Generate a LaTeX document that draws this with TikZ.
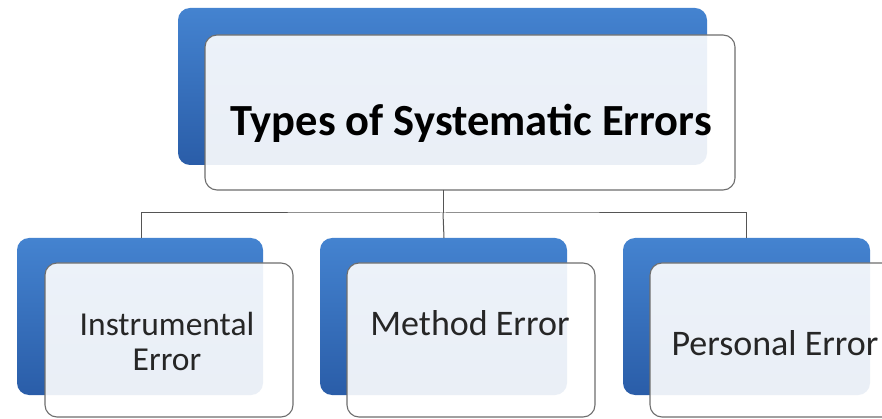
\documentclass[tikz,border=0pt]{standalone}
\usepackage{fontspec}
\setmainfont{Carlito}
\definecolor{bluetop}{HTML}{4483D0}
\definecolor{bluebot}{HTML}{2A5DA8}
\definecolor{edgegrey}{HTML}{6E6E6E}
\definecolor{linegrey}{HTML}{555555}
\definecolor{txt}{HTML}{262626}
\tikzset{
  backbox/.style={rounded corners=12pt, top color=bluetop, bottom color=bluebot, draw=none},
  frontbox/.style={rounded corners=12pt, draw=edgegrey, line width=1.1pt, fill=white, fill opacity=0.9},
  conn/.style={draw=linegrey, line width=1pt},
  childtxt/.style={font=\fontsize{36}{35}\selectfont, text=txt, anchor=base, inner sep=0pt, align=center},
}
\begin{document}
\begin{tikzpicture}[x=1pt,y=-1pt]
\useasboundingbox (0,0) rectangle (882,419);
\clip (0,0) rectangle (882,419);
\fill[white] (0,0) rectangle (882,419);
% top
\path[backbox] (178,8) rectangle (707,165);
\path[frontbox] (205,35) rectangle (735,190);
\node[font=\bfseries\fontsize{44.5}{45}\selectfont, text=black, anchor=base, inner sep=0pt] (toptxt) at (471,136) {Types of Systematic Errors};
% children
\path[backbox] (17,238) rectangle (263,395);
\path[frontbox] (45,263) rectangle (293,417);
\path[backbox] (320,238) rectangle (567,395);
\path[frontbox] (347,263) rectangle (595,417);
\path[backbox] (623,238) rectangle (870,395);
\path[frontbox] (650,263) rectangle (898,417);
\coordinate (c1) at (141,238);
\coordinate (c2) at (444,238);
\coordinate (c3) at (746,238);
\coordinate (topb) at (443,190);
\coordinate (j) at (443,213);
\node[childtxt, font=\fontsize{33.5}{35}\selectfont] (t1) at (167,370) {Instrumental\\Error};
\node[childtxt] (t2) at (470,335) {Method Error};
\node[childtxt] (t3) at (775,355) {Personal Error};
% connectors
\draw[conn] (topb) -- (j);
\draw[conn] (c1) |- (j) -| (c3);
\draw[conn] (j) -- (c2);
\end{tikzpicture}
\end{document}
